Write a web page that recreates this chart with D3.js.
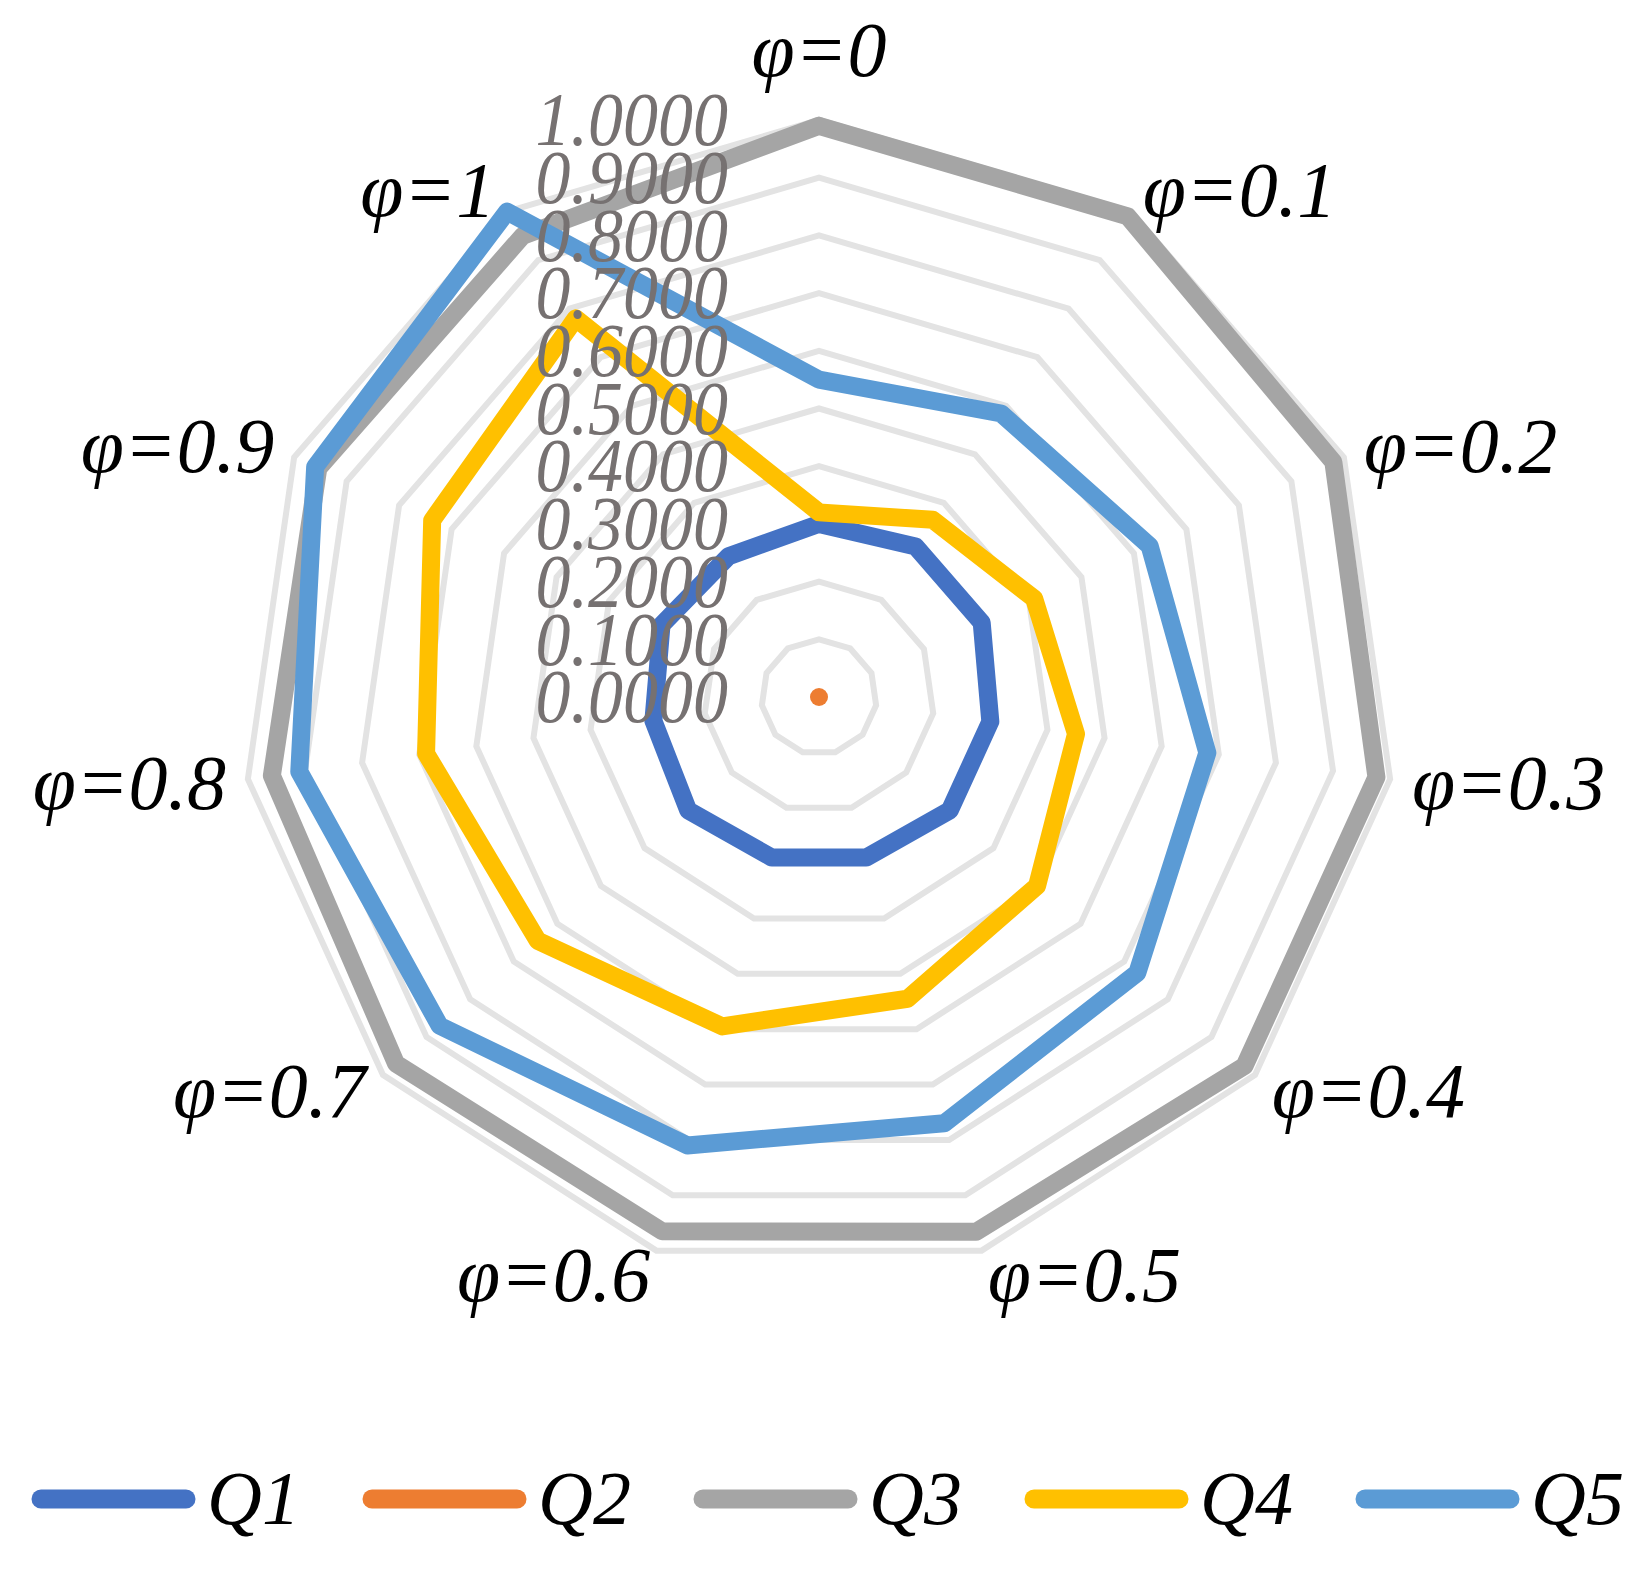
<!DOCTYPE html>
<html>
<head>
<meta charset="utf-8">
<script src="https://cdn.jsdelivr.net/npm/d3@7/dist/d3.min.js"></script>
<style>
  body { margin: 0; background: #fff; }
</style>
</head>
<body>
<script>
// DATA
var categories = ["φ=0", "φ=0.1", "φ=0.2", "φ=0.3", "φ=0.4", "φ=0.5", "φ=0.6", "φ=0.7", "φ=0.8", "φ=0.9", "φ=1"];
var tickValues = [0, 0.1, 0.2, 0.3, 0.4, 0.5, 0.6, 0.7, 0.8, 0.9, 1.0];
var seriesNames = ["Q1", "Q2", "Q3", "Q4", "Q5"];
var q1 = [0.30, 0.31, 0.31, 0.30, 0.30, 0.29, 0.29, 0.30, 0.29, 0.30, 0.29];
var q2 = [0, 0, 0, 0, 0, 0, 0, 0, 0, 0, 0];
var q3 = [0.99, 0.99, 0.98, 0.976, 0.976, 0.966, 0.965, 0.97, 0.958, 0.954, 0.95];
var q4 = [0.32, 0.365, 0.41, 0.45, 0.50, 0.545, 0.595, 0.645, 0.688, 0.737, 0.78];
var q5 = [0.55, 0.584, 0.63, 0.68, 0.73, 0.77, 0.81, 0.87, 0.91, 0.96, 1.0];
var seriesColors = ["#4472C4", "#ED7D31", "#A5A5A5", "#FFC000", "#5B9BD5"];

var allSeries = [q1, q2, q3, q4, q5];

// layout
var width = 1651, height = 1577;
var cx = 819, cy = 697, radius = 577;
var serif = "'Liberation Serif', 'Times New Roman', serif";

var svg = d3.select("body").append("svg")
   .attr("width", width).attr("height", height)
   .attr("viewBox", "0 0 " + width + " " + height);

svg.append("rect").attr("width", width).attr("height", height).attr("fill", "#fff");

var r = d3.scaleLinear().domain([0, 1]).range([0, radius]);
var ang = d3.scaleLinear().domain([0, categories.length]).range([0, 2 * Math.PI]);

var g = svg.append("g").attr("transform", "translate(" + cx + "," + cy + ")");

//GRID RINGS
var ringLine = d3.lineRadial()
   .angle(function(d, i){ return ang(i); })
   .radius(function(d){ return r(d); })
   .curve(d3.curveLinearClosed);

g.selectAll("path.ring").data(tickValues.filter(function(v){ return v > 0; })).enter().append("path")
   .attr("class", "ring")
   .attr("d", function(v){ return ringLine(categories.map(function(){ return v; })); })
   .attr("fill", "none")
   .attr("stroke", "#e3e3e3")
   .attr("stroke-width", 6);

//SERIES
var seriesLine = d3.lineRadial()
   .angle(function(d){ return ang(d.i); })
   .radius(function(d){ return r(d.v); });

g.selectAll("path.series").data(allSeries).enter().append("path")
   .attr("class", "series")
   .attr("d", function(vals){
      var pts = vals.map(function(v, i){ return {i: i, v: v}; });
      pts.push({i: vals.length, v: vals[0]}); // close the loop by hand
      return seriesLine(pts);
   })
   .attr("fill", "none")
   .attr("stroke", function(d, i){ return seriesColors[i]; })
   .attr("stroke-width", 18)
   .attr("stroke-linejoin", "round")
   .attr("stroke-linecap", "round");

//TICK LABELS (slightly stretched vertically like the original)
var tickSize = 70;
g.selectAll("text.tick").data(tickValues).enter().append("text")
   .attr("class", "tick")
   .text(function(d){ return d.toFixed(4); })
   .attr("transform", function(d){
      return "translate(-91," + (-r(d) + tickSize * 0.36) + ") scale(1,1.1)";
   })
   .attr("text-anchor", "end")
   .attr("font-family", serif)
   .attr("font-style", "italic")
   .attr("font-size", tickSize)
   .attr("fill", "#767171");

//CATEGORY LABELS
var catSize = 78;
var capH = catSize * 0.66;
g.selectAll("text.cat").data(categories).enter().append("text")
   .attr("class", "cat")
   .text(function(d){ return d; })
   .each(function(d, i){
      var a = ang(i), s = Math.sin(a), c = Math.cos(a);
      var vx = s * r(1), vy = -c * r(1);
      var anchor = s > 0.1 ? "start" : (s < -0.1 ? "end" : "middle");
      var x = vx + 22 * s;
      var yc = vy - c * capH / 2 - (anchor == "middle" ? 44 : 0);
      d3.select(this)
         .attr("x", x)
         .attr("y", yc + capH / 2)
         .attr("text-anchor", anchor);
   })
   .attr("font-family", serif)
   .attr("font-style", "italic")
   .attr("font-size", catSize)
   .attr("fill", "#000");

//LEGEND
var legSize = 76;
var legY = 1499;
var itemPitch = 331, lineLen = 145, textGap = 21;
var legStart = 41;
var leg = svg.append("g");
var items = leg.selectAll("g.item").data(seriesNames).enter().append("g")
   .attr("class", "item")
   .attr("transform", function(d, i){ return "translate(" + (legStart + i * itemPitch) + "," + legY + ")"; });
items.append("line")
   .attr("x1", 0).attr("x2", lineLen)
   .attr("y1", 0).attr("y2", 0)
   .attr("stroke", function(d, i){ return seriesColors[i]; })
   .attr("stroke-width", 19)
   .attr("stroke-linecap", "round");
items.append("text")
   .text(function(d){ return d; })
   .attr("x", lineLen + textGap)
   .attr("y", legSize * 0.33)
   .attr("font-family", serif)
   .attr("font-style", "italic")
   .attr("font-size", legSize)
   .attr("fill", "#000");
</script>
</body>
</html>
